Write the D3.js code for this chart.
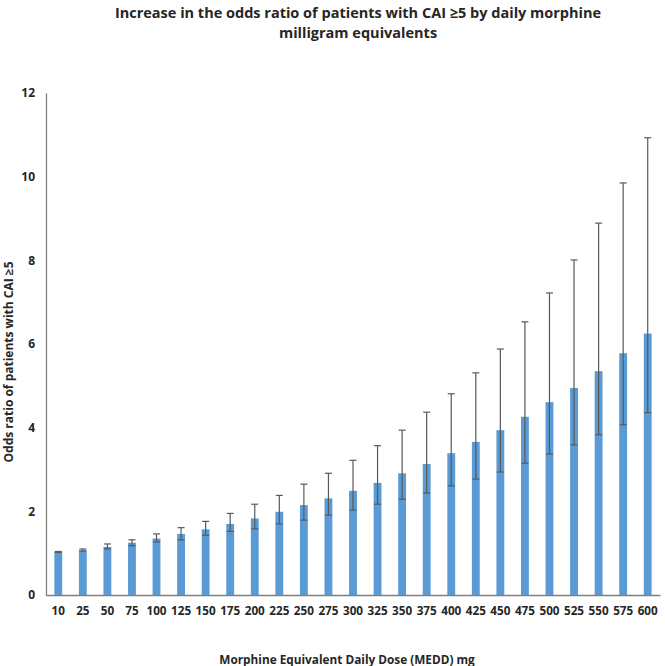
<!DOCTYPE html>
<html>
<head>
<meta charset="utf-8">
<script src="https://cdn.jsdelivr.net/npm/d3@7"></script>
<style>
  body { margin: 0; background: #fff; }
  text { font-family: "Open Sans", sans-serif; font-weight: bold; fill: #262626; }
</style>
</head>
<body>
<svg width="665" height="666"></svg>
<script>
"use strict";

// Data
var doses = ["10", "25", "50", "75", "100", "125", "150", "175", "200", "225", "250", "275", "300",
    "325", "350", "375", "400", "425", "450", "475", "500", "525", "550", "575", "600"];
var oddsRatio = [1.03, 1.07, 1.15, 1.25, 1.35, 1.46, 1.57, 1.70, 1.83, 1.99, 2.15, 2.31, 2.49,
    2.68, 2.91, 3.13, 3.39, 3.66, 3.94, 4.26, 4.61, 4.95, 5.35, 5.78, 6.25];
var ciLow = [1.02, 1.05, 1.10, 1.18, 1.27, 1.32, 1.43, 1.52, 1.58, 1.70, 1.79, 1.91, 2.03,
    2.17, 2.29, 2.44, 2.61, 2.77, 2.94, 3.15, 3.37, 3.59, 3.83, 4.07, 4.36];
var ciHigh = [1.04, 1.10, 1.22, 1.32, 1.46, 1.61, 1.76, 1.95, 2.17, 2.38, 2.65, 2.91, 3.22,
    3.57, 3.94, 4.37, 4.81, 5.31, 5.88, 6.53, 7.22, 8.01, 8.89, 9.85, 10.93];
var yTicks = [0, 2, 4, 6, 8, 10, 12];

var svg = d3.select("svg");

var x = d3.scaleBand()
    .domain(doses)
    .range([46, 660])
    .paddingInner(0.68)
    .paddingOuter(0.34);

var y = d3.scaleLinear()
    .domain([0, 12])
    .range([595, 93]);

// Title
svg.append("text")
    .attr("x", 358)
    .attr("y", 18)
    .style("text-anchor", "middle")
    .style("font-size", "14.5px")
    .text("Increase in the odds ratio of patients with CAI \u22655 by daily morphine");
svg.append("text")
    .attr("x", 358)
    .attr("y", 38)
    .style("text-anchor", "middle")
    .style("font-size", "14.5px")
    .text("milligram equivalents");

// Bars
svg.append("g")
    .selectAll("rect")
    .data(doses)
    .enter().append("rect")
        .attr("x", function (d) { return x(d); })
        .attr("y", function (d, i) { return y(oddsRatio[i]); })
        .attr("width", x.bandwidth())
        .attr("height", function (d, i) { return y(0) - y(oddsRatio[i]); })
        .attr("fill", "#5b9bd5");

// Error bars
var err = svg.append("g")
    .attr("stroke", "#595959")
    .attr("stroke-width", 1.2);

doses.forEach(function (d, i) {
    var cx = x(d) + x.bandwidth() / 2;
    err.append("line")
        .attr("x1", cx).attr("x2", cx)
        .attr("y1", y(ciLow[i])).attr("y2", y(ciHigh[i]));
    [ciLow[i], ciHigh[i]].forEach(function (v) {
        err.append("line")
            .attr("x1", cx - 3.5).attr("x2", cx + 3.5)
            .attr("y1", y(v)).attr("y2", y(v));
    });
});

// Axes
var yAxis = d3.axisLeft(y)
    .tickValues(yTicks)
    .tickSize(0)
    .tickPadding(11);

var gy = svg.append("g")
    .attr("transform", "translate(46, 0)")
    .call(yAxis);
gy.select(".domain").attr("stroke", "#7f7f7f").attr("stroke-width", 1.3);
gy.selectAll("text").style("font-size", "12px").attr("font-family", null);

var xAxis = d3.axisBottom(x)
    .tickSize(0)
    .tickPadding(12);

var gx = svg.append("g")
    .attr("transform", "translate(0, 595)")
    .call(xAxis);
gx.select(".domain").attr("stroke", "#7f7f7f").attr("stroke-width", 1.3);
gx.selectAll("text").style("font-size", "11.7px").attr("font-family", null);

// Axis labels
svg.append("text")
    .attr("transform", "translate(13, 362) rotate(-90)")
    .style("text-anchor", "middle")
    .style("font-size", "12px")
    .text("Odds ratio of patients with CAI \u22655");

svg.append("text")
    .attr("x", 347)
    .attr("y", 664)
    .style("text-anchor", "middle")
    .style("font-size", "11.8px")
    .text("Morphine Equivalent Daily Dose (MEDD) mg");
</script>
</body>
</html>
